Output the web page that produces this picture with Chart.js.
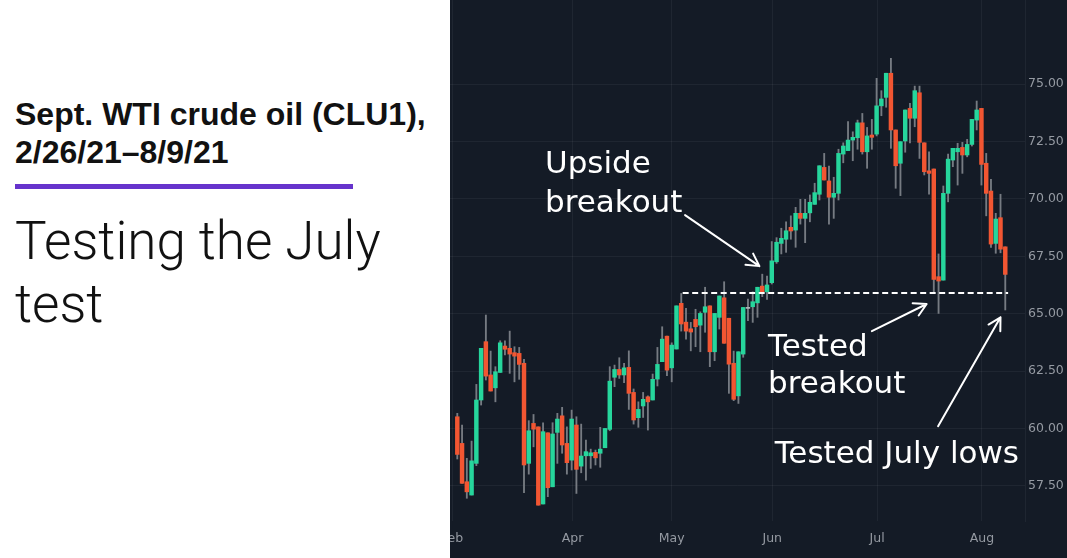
<!DOCTYPE html>
<html>
<head>
<meta charset="utf-8">
<script src="https://cdn.jsdelivr.net/npm/chart.js@4.4.1/dist/chart.umd.min.js"></script>
<style>
  html, body { margin: 0; padding: 0; }
  body { width: 1067px; height: 558px; position: relative; overflow: hidden; background: #fff; }
  #title { position: absolute; left: 15px; top: 95px; font: bold 32px "Liberation Sans", Arial, sans-serif; line-height: 38px; color: #111; white-space: nowrap; }
  #rule { position: absolute; left: 15px; top: 184px; width: 338px; height: 5px; background: #6633cc; }
  #headline { position: absolute; left: 15px; top: 210px; font: 300 53px Roboto, sans-serif; line-height: 63px; color: #111; white-space: nowrap; }
  #plot { position: absolute; left: 450px; top: 0; width: 617px; height: 558px; background: #141b26; }
</style>
</head>
<body>
<div id="title">Sept. WTI crude oil (CLU1),<br>2/26/21–8/9/21</div>
<div id="rule"></div>
<div id="headline">Testing the July<br>test</div>
<div id="plot"><canvas id="oilChart" width="617" height="558"></canvas></div>

<script>
// daily candles, 2/26/21 - 8/9/21 (one entry per session)
var opens = [60.51, 59.35, 57.68, 57.10, 58.48, 61.24, 63.78, 62.33, 61.77, 62.44,
    63.59, 63.49, 63.30, 63.27, 62.84, 58.48, 60.22, 60.07, 56.71, 59.81,
    57.46, 59.83, 60.55, 59.35, 58.62, 60.15, 58.36, 58.81, 58.81, 58.96,
    58.92, 59.16, 59.96, 62.23, 62.57, 62.33, 62.66, 61.57, 60.47, 60.98,
    61.38, 61.24, 62.15, 62.91, 64.02, 62.64, 63.46, 65.45, 64.63, 64.34,
    64.75, 64.50, 65.06, 65.34, 63.34, 64.84, 65.69, 64.80, 62.84, 61.42,
    63.24, 65.23, 65.30, 65.47, 66.20, 65.95, 66.35, 67.26, 68.06, 68.24,
    68.76, 68.64, 69.37, 69.15, 69.39, 69.76, 70.20, 71.37, 70.78, 70.07,
    70.24, 71.95, 72.10, 72.56, 72.66, 73.31, 72.05, 72.78, 72.82, 74.05,
    74.42, 75.47, 73.00, 71.55, 72.52, 73.94, 73.51, 74.62, 72.44, 71.22,
    71.30, 66.61, 66.46, 70.24, 71.69, 72.05, 72.24, 71.91, 72.37, 73.43,
    73.94, 71.55, 70.34, 68.06, 69.18, 67.91];
var highs = [60.66, 60.15, 58.70, 59.45, 61.92, 63.49, 64.94, 63.37, 62.69, 63.82,
    63.82, 64.24, 63.56, 63.53, 63.01, 60.34, 60.61, 60.07, 60.25, 59.81,
    60.25, 60.66, 60.92, 60.07, 60.80, 60.51, 60.19, 59.49, 59.10, 59.06,
    60.05, 60.00, 62.69, 62.76, 63.08, 62.84, 63.38, 61.72, 61.16, 61.57,
    61.42, 62.37, 63.53, 64.43, 64.02, 63.73, 65.34, 65.88, 65.23, 64.62,
    65.19, 65.08, 66.15, 65.34, 65.01, 65.77, 66.39, 64.80, 63.37, 63.34,
    65.27, 65.64, 65.95, 66.15, 66.72, 66.64, 68.14, 68.31, 68.72, 69.00,
    69.26, 69.63, 69.98, 69.98, 70.17, 70.68, 71.44, 71.98, 71.43, 70.94,
    72.16, 72.44, 73.36, 72.92, 73.43, 73.72, 73.11, 73.46, 75.25, 74.71,
    75.47, 76.12, 73.00, 72.49, 73.87, 74.16, 74.91, 74.91, 72.44, 72.05,
    71.30, 67.60, 70.56, 71.95, 72.20, 72.42, 72.46, 72.59, 73.46, 74.26,
    73.94, 71.98, 70.85, 69.37, 70.20, 67.91];
var lows = [58.67, 57.61, 56.96, 57.10, 58.38, 61.02, 62.11, 61.63, 61.16, 62.44,
    63.20, 62.40, 62.03, 62.14, 57.20, 58.01, 59.20, 56.66, 56.71, 57.03,
    57.46, 58.48, 58.92, 58.01, 58.19, 57.17, 58.07, 57.75, 58.26, 58.41,
    58.31, 59.16, 59.90, 61.82, 62.18, 61.99, 60.83, 60.19, 60.05, 60.48,
    59.93, 61.24, 61.85, 62.91, 62.30, 62.03, 63.46, 64.24, 63.89, 63.38,
    63.56, 63.34, 64.19, 62.69, 62.95, 64.33, 63.71, 61.53, 61.21, 61.09,
    63.10, 64.69, 64.62, 64.84, 65.74, 65.62, 66.29, 67.19, 67.60, 67.67,
    68.24, 67.89, 68.90, 68.09, 69.00, 69.76, 69.95, 70.82, 68.90, 69.15,
    69.95, 71.57, 72.10, 71.66, 72.16, 71.95, 71.33, 72.16, 72.74, 73.62,
    73.99, 72.20, 70.46, 70.14, 72.03, 72.44, 73.14, 71.76, 71.04, 70.20,
    65.95, 65.01, 66.46, 69.87, 71.40, 70.60, 71.11, 71.83, 72.30, 73.00,
    70.60, 69.26, 67.89, 67.63, 67.65, 65.16];
var closes = [58.87, 57.61, 57.24, 58.59, 61.24, 63.49, 62.28, 61.63, 62.47, 63.73,
    63.45, 63.24, 63.15, 62.79, 58.41, 59.90, 59.97, 56.66, 59.86, 57.42,
    59.76, 60.41, 59.28, 58.51, 60.41, 58.22, 58.80, 58.99, 58.94, 58.72,
    59.10, 60.00, 62.06, 62.57, 62.33, 62.64, 61.53, 60.37, 60.83, 61.27,
    61.16, 62.14, 62.79, 63.89, 62.54, 63.63, 65.34, 64.55, 64.24, 64.20,
    64.43, 65.01, 65.30, 63.34, 65.01, 65.77, 63.71, 62.80, 61.27, 63.34,
    65.27, 65.23, 65.52, 66.15, 65.95, 66.25, 67.30, 68.11, 68.28, 68.61,
    68.60, 69.37, 69.15, 69.37, 69.85, 70.27, 71.44, 70.82, 70.07, 70.24,
    71.98, 72.30, 72.56, 72.68, 73.31, 72.05, 72.74, 72.68, 74.05, 74.35,
    75.47, 73.00, 71.44, 72.49, 73.87, 73.51, 74.71, 72.46, 71.18, 71.11,
    66.49, 66.42, 70.24, 71.73, 72.20, 72.20, 71.91, 72.37, 73.46, 73.87,
    71.50, 70.24, 68.03, 69.12, 67.81, 66.71];

// x axis: month labels sit on the session where each month starts
var monthTicks = [-1.1, 24.2, 45, 66.1, 88.1, 110.1];
var monthLabels = ["Feb", "Apr", "May", "Jun", "Jul", "Aug"];
var priceTicks = [57.5, 60, 62.5, 65, 67.5, 70, 72.5, 75];
var priceLabels = ["57.50", "60.00", "62.50", "65.00", "67.50", "70.00", "72.50", "75.00"];

// July-low / breakout level and where it is drawn
var breakoutLevel = 65.9;
var breakoutFrom = 47.3;
var breakoutTo = 115.6;

// callouts [session, price]
var noteTexts = ["Upside", "breakout", "Tested", "breakout", "Tested July lows"];
var noteX = [18.4, 18.4, 65.2, 65.2, 66.6];
var noteY = [71.14, 69.41, 63.17, 61.53, 58.48];
var arrowFrom = [[47.8, 69.29], [87.0, 64.24], [100.9, 60.10]];
var arrowTo = [[63.4, 67.07], [98.5, 65.42], [114.0, 64.84]];

var upColour = "#26d69c";
var downColour = "#f25632";
var flatColour = "#b4b7bc";
var wickColour = "#767b82";
var gridColour = "rgba(255,255,255,0.05)";
var labelColour = "#959aa2";

var bodyData = [];
var wickData = [];
var bodyColours = [];
for (var i = 0; i < opens.length; i++) {
    bodyData.push({x: i, y: [opens[i], closes[i]]});
    wickData.push({x: i, y: [lows[i], highs[i]]});
    if (closes[i] > opens[i]) bodyColours.push(upColour);
    else if (closes[i] < opens[i]) bodyColours.push(downColour);
    else bodyColours.push(flatColour);
}

function drawArrow(ctx, x1, y1, x2, y2) {
    var ang = Math.atan2(y2 - y1, x2 - x1);
    var len = 14;
    var spread = Math.PI / 6.2;
    ctx.beginPath();
    ctx.moveTo(x1, y1);
    ctx.lineTo(x2, y2);
    ctx.moveTo(x2 - len * Math.cos(ang - spread), y2 - len * Math.sin(ang - spread));
    ctx.lineTo(x2, y2);
    ctx.lineTo(x2 - len * Math.cos(ang + spread), y2 - len * Math.sin(ang + spread));
    ctx.stroke();
}

var calloutPlugin = {
    id: "callouts",
    afterDatasetsDraw: function(chart) {
        var ctx = chart.ctx;
        var xs = chart.scales.x;
        var ys = chart.scales.y;
        ctx.save();
        ctx.strokeStyle = "#ffffff";
        ctx.lineWidth = 2;
        ctx.lineCap = "round";
        ctx.lineJoin = "round";
        for (var a = 0; a < arrowFrom.length; a++) {
            drawArrow(ctx,
                xs.getPixelForValue(arrowFrom[a][0]), ys.getPixelForValue(arrowFrom[a][1]),
                xs.getPixelForValue(arrowTo[a][0]), ys.getPixelForValue(arrowTo[a][1]));
        }
        ctx.fillStyle = "#ffffff";
        ctx.font = '31px "DejaVu Sans", sans-serif';
        ctx.textAlign = "left";
        ctx.textBaseline = "alphabetic";
        for (var n = 0; n < noteTexts.length; n++) {
            ctx.fillText(noteTexts[n], xs.getPixelForValue(noteX[n]), ys.getPixelForValue(noteY[n]));
        }
        ctx.restore();
    }
};

new Chart("oilChart", {
    type: "bar",
    data: {
        datasets: [
            {
                label: "range",
                data: wickData,
                backgroundColor: wickColour,
                grouped: false,
                barPercentage: 1,
                categoryPercentage: 1,
                maxBarThickness: 1.2,
                order: 3
            },
            {
                label: "body",
                data: bodyData,
                backgroundColor: bodyColours,
                grouped: false,
                barPercentage: 1,
                categoryPercentage: 1,
                maxBarThickness: 3.8,
                minBarLength: 1,
                order: 2
            },
            {
                type: "line",
                label: "breakout",
                data: [{x: breakoutFrom, y: breakoutLevel}, {x: breakoutTo, y: breakoutLevel}],
                borderColor: "#ffffff",
                borderWidth: 2,
                borderDash: [6, 3.5],
                pointRadius: 0,
                order: 1
            }
        ]
    },
    options: {
        responsive: false,
        animation: false,
        layout: { padding: 0 },
        plugins: {
            legend: { display: false },
            tooltip: { enabled: false }
        },
        scales: {
            x: {
                type: "linear",
                min: -1.53,
                max: 119.14,
                offset: false,
                grid: { color: gridColour, offset: false, drawTicks: false },
                border: { display: false },
                afterBuildTicks: function(scale) {
                    scale.ticks = monthTicks.map(function(v) { return {value: v}; });
                },
                afterFit: function(scale) {
                    scale.height = 37;
                    scale.paddingLeft = 0;
                    scale.paddingRight = 0;
                },
                ticks: {
                    autoSkip: false,
                    maxRotation: 0,
                    padding: 10,
                    color: labelColour,
                    font: { family: "DejaVu Sans", size: 12.5 },
                    callback: function(value, index) { return monthLabels[index]; }
                }
            },
            y: {
                type: "linear",
                position: "right",
                min: 55.97,
                max: 78.66,
                grid: { color: gridColour, drawTicks: false },
                border: { display: true, color: gridColour },
                afterBuildTicks: function(scale) {
                    scale.ticks = priceTicks.map(function(v) { return {value: v}; });
                },
                afterFit: function(scale) {
                    scale.width = 42;
                    scale.paddingTop = 0;
                    scale.paddingBottom = 0;
                },
                ticks: {
                    padding: 3,
                    color: labelColour,
                    font: { family: "DejaVu Sans", size: 12.5 },
                    callback: function(value, index) { return priceLabels[index]; }
                }
            }
        }
    },
    plugins: [calloutPlugin]
});
</script>
</body>
</html>
